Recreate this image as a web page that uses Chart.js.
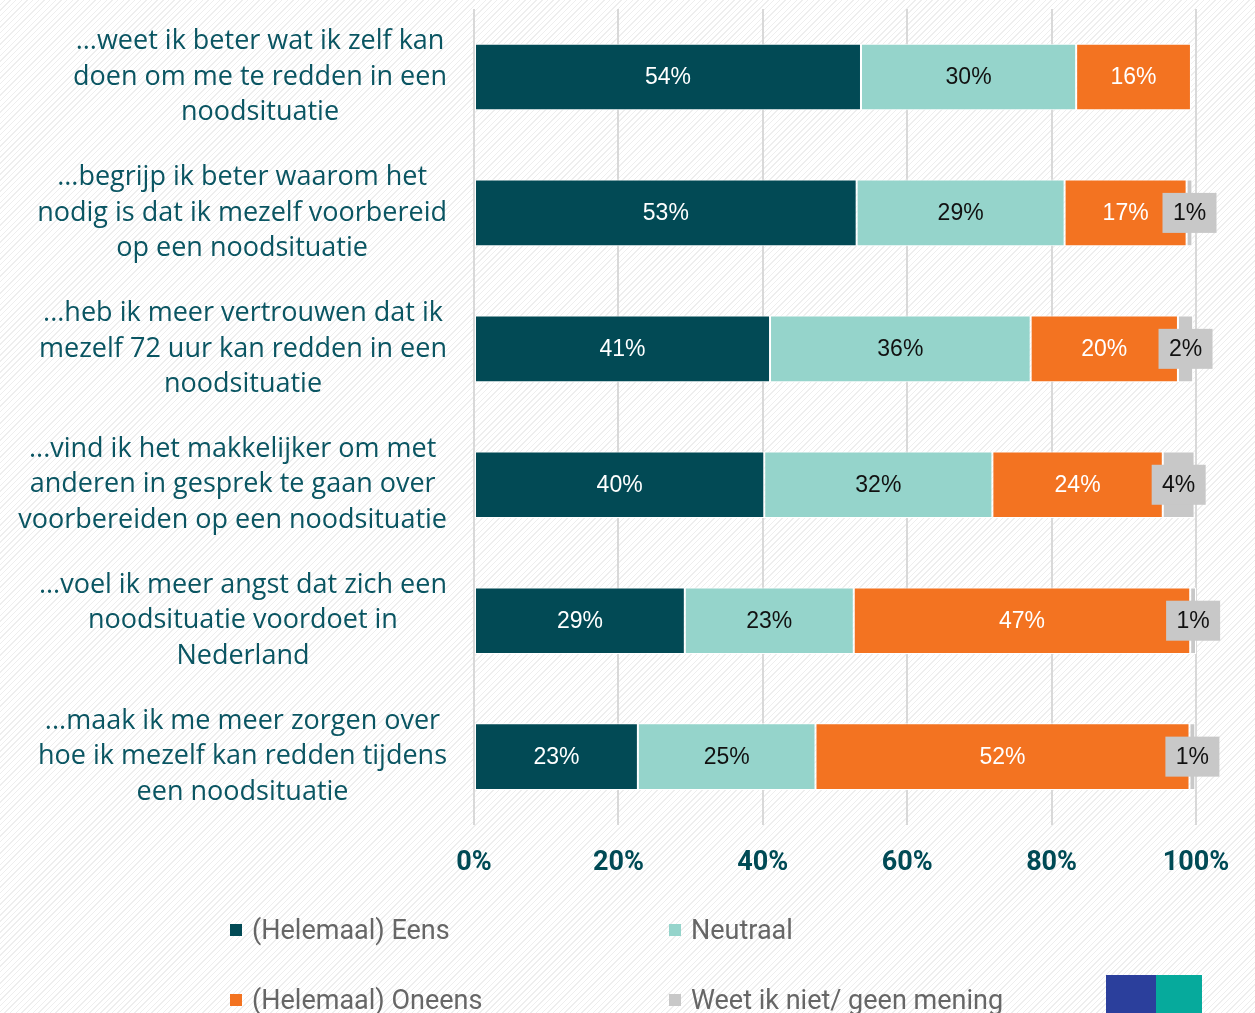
<!DOCTYPE html>
<html>
<head>
<meta charset="utf-8">
<script src="https://cdn.jsdelivr.net/npm/chart.js@4/dist/chart.umd.min.js"></script>
<style>
  html, body { margin: 0; padding: 0; }
  body {
    width: 1255px; height: 1013px; overflow: hidden; position: relative;
    background: #fff repeating-linear-gradient(135deg, #ffffff 0px, #ffffff 3px, #eeeeee 3px, #eeeeee 4px);
  }
  #wrap { position: absolute; left: 0; top: 0; width: 1255px; height: 906px; }
  #legend { position: absolute; left: 0; top: 0; width: 1255px; height: 1013px; pointer-events: none; }
  .lg-item {
    position: absolute; display: flex; align-items: center; height: 30px;
    font-family: 'Roboto', sans-serif; font-size: 27px; color: #666;
  }
  .lg-box { width: 12px; height: 12px; margin-right: 10px; }
  #logo { position: absolute; left: 1106px; top: 975px; width: 96px; height: 40px; display: flex; }
  #logo div { height: 100%; }
</style>
</head>
<body>
<div id="wrap"><canvas id="c"></canvas></div>
<div id="legend"></div>
<div id="logo"><div style="width:50px;background:#2b3f9c"></div><div style="width:46px;background:#06aa9c"></div></div>
<script>
//================================ DADES

const categories = [
  ['...weet ik beter wat ik zelf kan', 'doen om me te redden in een', 'noodsituatie'],
  ['...begrijp ik beter waarom het', 'nodig is dat ik mezelf voorbereid', 'op een noodsituatie'],
  ['...heb ik meer vertrouwen dat ik', 'mezelf 72 uur kan redden in een', 'noodsituatie'],
  ['...vind ik het makkelijker om met', 'anderen in gesprek te gaan over', 'voorbereiden op een noodsituatie'],
  ['...voel ik meer angst dat zich een', 'noodsituatie voordoet in', 'Nederland'],
  ['...maak ik me meer zorgen over', 'hoe ik mezelf kan redden tijdens', 'een noodsituatie'],
];

const seriesNames = ['(Helemaal) Eens', 'Neutraal', '(Helemaal) Oneens', 'Weet ik niet/ geen mening'];

const eens = [53.6, 53.0, 41.0, 40.2, 29.2, 22.7];
const neutraal = [29.8, 28.8, 36.1, 31.6, 23.4, 24.6];
const oneens = [15.9, 16.9, 20.4, 23.6, 46.6, 51.8];
const weetNiet = [0, 0.8, 2.1, 4.4, 0.8, 0.8];

const xTicks = [0, 20, 40, 60, 80, 100];

//================================ ESTILS

const colors = ['#024a55', '#95d4cb', '#f37321', '#c8c8c8'];
const labelColors = ['#ffffff', '#111111', '#ffffff', '#111111'];
const tealText = '#0a5562';

//================================ PLUGINS

// Etiquetes de categoria: cada bloc alineat a la dreta, línies centrades dins del bloc
const catLabels = {
  id: 'catLabels',
  afterDraw (chart) {
    const ctx = chart.ctx;
    const yScale = chart.scales.y;
    const right = chart.chartArea.left - 27;
    const lineH = 35.5;
    ctx.save();
    ctx.font = '27px "Open Sans", sans-serif';
    ctx.fillStyle = tealText;
    ctx.textAlign = 'center';
    ctx.textBaseline = 'middle';
    for (let i = 0; i < categories.length; i++) {
      const lines = categories[i];
      let w = 0;
      for (let k = 0; k < lines.length; k++) {
        w = Math.max(w, ctx.measureText(lines[k]).width);
      }
      const cx = right - w / 2;
      const cy = yScale.getPixelForValue(i);
      for (let k = 0; k < lines.length; k++) {
        ctx.fillText(lines[k], cx, cy + (k - (lines.length - 1) / 2) * lineH);
      }
    }
    ctx.restore();
  }
};

// Etiquetes de valor dins dels segments
const barLabels = {
  id: 'barLabels',
  afterDatasetsDraw (chart) {
    const ctx = chart.ctx;
    ctx.save();
    ctx.font = '23px "Liberation Sans", Arial, sans-serif';
    ctx.textAlign = 'center';
    ctx.textBaseline = 'middle';
    for (let d = 0; d < chart.data.datasets.length; d++) {
      const meta = chart.getDatasetMeta(d);
      const vals = chart.data.datasets[d].data;
      for (let i = 0; i < meta.data.length; i++) {
        if (!(vals[i] > 0)) continue;
        const el = meta.data[i];
        const x = (el.x + el.base) / 2;
        const y = el.y;
        const txt = Math.round(vals[i]) + '%';
        if (d === 3) {
          ctx.fillStyle = '#c8c8c8';
          ctx.fillRect(x - 27, y - 20, 54, 40);
        }
        ctx.fillStyle = labelColors[d];
        ctx.fillText(txt, x, y + 1);
      }
    }
    ctx.restore();
  }
};

//================================ GRÀFIC

const seriesData = [eens, neutraal, oneens, weetNiet];
const datasets = [];
for (let s = 0; s < seriesData.length; s++) {
  datasets.push({
    label: seriesNames[s],
    data: seriesData[s],
    backgroundColor: colors[s],
    borderColor: '#ffffff',
    borderWidth: 1,
    borderSkipped: false,
    barPercentage: 0.49,
    categoryPercentage: 1,
  });
}

const yLabels = [];
for (let i = 0; i < categories.length; i++) yLabels.push(categories[i].join(' '));

const chart = new Chart(document.getElementById('c'), {
  type: 'bar',
  data: { labels: yLabels, datasets },
  options: {
    indexAxis: 'y',
    responsive: true,
    maintainAspectRatio: false,
    animation: false,
    layout: { padding: { left: 474, right: 59, top: 9, bottom: 5 } },
    plugins: { legend: { display: false }, tooltip: { enabled: false } },
    scales: {
      x: {
        stacked: true,
        min: 0,
        max: 100,
        afterBuildTicks (scale) {
          const t = [];
          for (let i = 0; i < xTicks.length; i++) t.push({ value: xTicks[i] });
          scale.ticks = t;
        },
        ticks: {
          callback: (v) => v + '%',
          color: '#004a55',
          padding: 22,
          font: { family: "'Roboto', sans-serif", size: 27, weight: 'bold' },
        },
        grid: { color: '#d9d9d9', lineWidth: 2, drawTicks: false },
        border: { display: false },
      },
      y: { stacked: true, display: false },
    },
  },
  plugins: [catLabels, barLabels],
});

//================================ LLEGENDA

const legendPos = [[230, 915], [669, 915], [230, 985], [669, 985]];
const lg = document.getElementById('legend');
for (let s = 0; s < seriesNames.length; s++) {
  const item = document.createElement('div');
  item.className = 'lg-item';
  item.style.left = legendPos[s][0] + 'px';
  item.style.top = legendPos[s][1] + 'px';
  const box = document.createElement('span');
  box.className = 'lg-box';
  box.style.background = colors[s];
  const txt = document.createElement('span');
  txt.textContent = seriesNames[s];
  item.appendChild(box);
  item.appendChild(txt);
  lg.appendChild(item);
}
</script>
</body>
</html>
